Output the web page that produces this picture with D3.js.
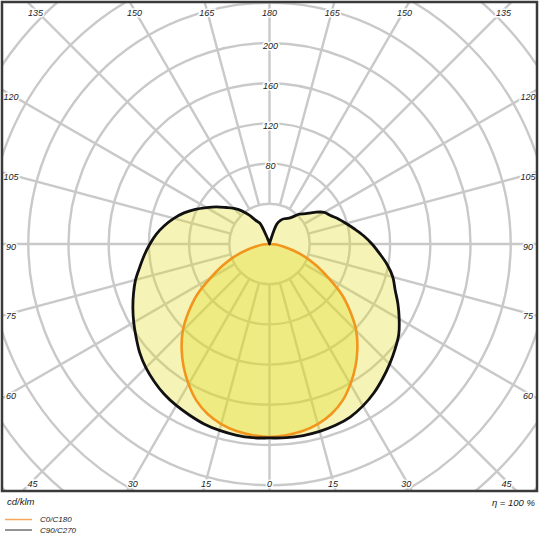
<!DOCTYPE html>
<html><head><meta charset="utf-8">
<script src="https://cdn.jsdelivr.net/npm/d3@7"></script>
<style>
html,body{margin:0;padding:0;background:#fff;}
svg{display:block;font-family:"Liberation Sans",Arial,sans-serif;font-style:italic;}
</style>
</head><body>
<svg id="c" width="540" height="540"></svg>
<script>
// ---- data (cd/klm) ----
const gammaC90 = [0,5,10,15,20,25,30,35,40,45,50,55,60,65,70,75,80,85,90,95,100,105,110,115,120,125,130,135,140,145,150,155,160,165,170,175,180];
const c90  = [193,193.5,193.5,193,192,190,186,181,175,169,163,157,149,141,133,127,119,110,102,94,86,79,73,67,63,55,47,42,35,31,29,26,21,3,1,0.5,0];
const c270 = [193,193.5,193,192,190.5,188,185.5,182.5,178.5,174,168.5,162,156,150,144,138,131,125,119,113,106,98.5,90.5,81.5,72.5,64.5,56.5,50,43,35,27,23,6,2,1,0.5,0];
const gammaC0 = [0,5,10,15,20,25,30,35,40,45,50,55,60,65,70,75,80,85,90];
const c0   = [192,191,189,185.5,180,172,161,149,136,122,105,88,68,52,38,24,13,6.5,0];
const c180 = [192,191,189,185.5,180,172,161,149,136,122,105,88,68,52,38,24,13,6.5,0];
const ringValues = [40,80,120,160,200,240,280,320,360];
const ringLabels = ["80","120","160","200"];
const rayAngles = [0,15,30,45,60,75,90,105,120,135,150,165,180];
const legendNames = ["C0/C180","C90/C270"];
const unitLabel = "cd/klm";
const effLabel = "η = 100 %";

// ---- layout ----
const svg = d3.select("#c");
const cx = 269.5, cy = 244;
const frame = {x:2, y:2, w:535, h:489};
const r = d3.scaleLinear().domain([0,360]).range([0,361.8]);
const rad = Math.PI/180;

svg.append("defs").append("clipPath").attr("id","clip")
  .append("rect").attr("x",frame.x).attr("y",frame.y).attr("width",frame.w).attr("height",frame.h);

const g = svg.append("g").attr("clip-path","url(#clip)");
const grid = g.append("g").attr("stroke","#c9c9c9").attr("stroke-width",2.4).attr("fill","none");

grid.selectAll("circle").data(ringValues).join("circle")
  .attr("cx",cx).attr("cy",cy).attr("r",d=>r(d));

const rays = [];
rayAngles.forEach(a=>{
  rays.push({a, side:1});
  if (a!==0 && a!==180) rays.push({a, side:-1});
});
grid.selectAll("line").data(rays).join("line")
  .attr("x1",d=>cx + d.side*r(40)*Math.sin(d.a*rad))
  .attr("y1",d=>cy + r(40)*Math.cos(d.a*rad))
  .attr("x2",d=>cx + d.side*r(450)*Math.sin(d.a*rad))
  .attr("y2",d=>cy + r(450)*Math.cos(d.a*rad));

// ---- curves ----
const radial = d3.lineRadial().curve(d3.curveCatmullRomClosed.alpha(0.5));
function closedPts(gam, right, left){
  const pts = [];
  gam.forEach((a,i)=>pts.push([Math.PI - a*rad, r(right[i])]));
  for (let i=gam.length-2;i>=1;i--) pts.push([Math.PI + gam[i]*rad, r(left[i])]);
  return pts;
}
const blackPts = closedPts(gammaC90, c90, c270);
const orangePts = closedPts(gammaC0, c0, c180);

const curves = g.append("g").attr("transform",`translate(${cx},${cy})`);
curves.append("path").attr("d",radial(blackPts)).attr("fill","rgb(225,219,30)").attr("fill-opacity",0.33);
curves.append("path").attr("d",radial(orangePts)).attr("fill","rgb(225,219,30)").attr("fill-opacity",0.33);
curves.append("path").attr("d",radial(orangePts)).attr("fill","none").attr("stroke","#f2951c").attr("stroke-width",2.6);
curves.append("path").attr("d",radial(blackPts)).attr("fill","none").attr("stroke","#111").attr("stroke-width",2.8).attr("stroke-linejoin","round");

// ---- labels ----
const labels = svg.append("g").attr("font-size",9).attr("fill","#222")
  .attr("stroke","#fff").attr("stroke-width",3).attr("paint-order","stroke")
  .attr("text-anchor","middle").attr("dominant-baseline","central");

const box = {xL:11, xR:528, yT:10, yB:481};
rays.forEach(d=>{
  const dx = d.side*Math.sin(d.a*rad), dy = Math.cos(d.a*rad);
  let t = Infinity;
  if (dx > 1e-9) t = Math.min(t,(box.xR-cx)/dx);
  if (dx < -1e-9) t = Math.min(t,(box.xL-cx)/dx);
  if (dy > 1e-9) t = Math.min(t,(box.yB-cy)/dy);
  if (dy < -1e-9) t = Math.min(t,(box.yT-cy)/dy);
  labels.append("text").attr("x",cx+t*dx).attr("y",cy+t*dy+2.5).text(d.a);
});
ringLabels.forEach(v=>{
  labels.append("text").attr("x",cx+1).attr("y",cy - r(+v) + 2.5).text(v);
});

// ---- frame ----
svg.append("rect").attr("x",frame.x).attr("y",frame.y).attr("width",frame.w).attr("height",frame.h)
  .attr("fill","none").attr("stroke","#3a3a3a").attr("stroke-width",2.5);

// ---- footer ----
svg.append("text").attr("x",7).attr("y",505).attr("font-size",9.5).attr("fill","#222").text(unitLabel);
svg.append("text").attr("x",535).attr("y",506).attr("font-size",9.5).attr("fill","#222").attr("text-anchor","end").text(effLabel);
const legColors = ["#f5a85a","#707070"];
legendNames.forEach((n,i)=>{
  const y = 519.5 + i*10.5;
  svg.append("line").attr("x1",5).attr("x2",32).attr("y1",y).attr("y2",y).attr("stroke",legColors[i]).attr("stroke-width",1.5);
  svg.append("text").attr("x",40).attr("y",y).attr("dominant-baseline","central").attr("font-size",8).attr("fill","#222").text(n);
});
</script>
</body></html>
